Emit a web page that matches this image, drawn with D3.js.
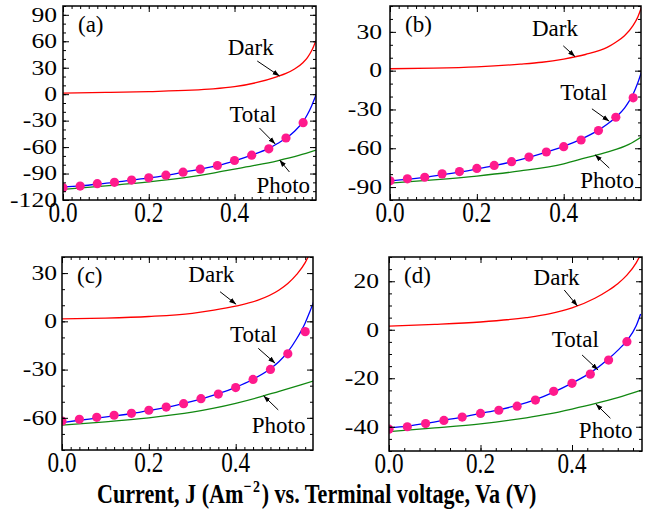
<!DOCTYPE html>
<html><head><meta charset="utf-8">
<script src="https://cdn.jsdelivr.net/npm/d3@7"></script>
<style>body{margin:0;background:#fff} svg{display:block} text{font-family:"Liberation Serif","Times New Roman",serif;fill:#000}</style>
</head><body><svg id="c" width="654" height="512"></svg>
<script>
// ---------------- data ----------------
const dotV = [0,0.04,0.08,0.12,0.16,0.20,0.24,0.28,0.32,0.36,0.40,0.44,0.48,0.52,0.56];

// panel (a)
const darkV_a = [0,0.1,0.2,0.3,0.35,0.4,0.45,0.5,0.52,0.54,0.56,0.57,0.58,0.59];
const darkJ_a = [1.2,2,3,4.5,6,8.5,13,20,23.5,28.5,36,41.5,49.5,61];
const totalV_a = [0,0.04,0.08,0.12,0.16,0.2,0.24,0.28,0.32,0.36,0.4,0.44,0.48,0.5,0.52,0.54,0.56,0.57,0.58,0.59];
const totalJ_a = [-105,-104,-102,-100,-97.5,-95,-92,-88.5,-85,-81,-75.5,-69,-61.5,-56,-50,-42,-31,-23,-13,-1];
const photoV_a = [0,0.1,0.2,0.3,0.35,0.4,0.45,0.5,0.55,0.59];
const photoJ_a = [-108,-104,-99.5,-93.5,-89.5,-85,-80.5,-75.5,-69.5,-63.5];
const dotsJ_a = [-106,-104.2,-101.5,-100,-97.4,-94.8,-91.8,-88.4,-85,-80.9,-75.2,-69.2,-62,-49.7,-32.3];

// panel (b)
const darkV_b = [0,0.1,0.2,0.3,0.35,0.4,0.45,0.5,0.52,0.54,0.56,0.57,0.58];
const darkJ_b = [1.5,2,3,5,6.5,9,12.5,18,22,27,35,41,50];
const totalV_b = [0,0.04,0.08,0.12,0.16,0.2,0.24,0.28,0.32,0.36,0.4,0.44,0.48,0.5,0.52,0.54,0.55,0.56,0.57,0.58];
const totalJ_b = [-85,-84,-82.5,-80.5,-78.5,-76,-73.5,-70.5,-67,-63,-58.5,-53,-46,-41.5,-36,-29,-24,-18,-10,0];
const photoV_b = [0,0.1,0.2,0.3,0.4,0.45,0.5,0.55,0.58];
const photoJ_b = [-87,-84.5,-81.5,-77.5,-72,-67.5,-63,-57,-51];
const dotsJ_b = [-85.2,-83.6,-82.4,-79.8,-78,-75.6,-73.3,-70.4,-66.8,-62.9,-58.8,-53.6,-46.3,-36,-21];

// panel (c)
const darkV_c = [0,0.1,0.2,0.3,0.35,0.4,0.45,0.5,0.52,0.54,0.56,0.57,0.58];
const darkJ_c = [1.5,2,3,5,7,9.5,13,19.5,23.5,29,36.5,42,49];
const totalV_c = [0,0.04,0.08,0.12,0.16,0.2,0.24,0.28,0.32,0.36,0.4,0.44,0.48,0.5,0.52,0.54,0.56,0.57,0.58];
const totalJ_c = [-63,-61.5,-60.2,-58.8,-57.3,-55.5,-53.5,-51,-48.3,-45,-41,-36,-29.5,-25,-19,-11,-1,5.5,12.5];
const photoV_c = [0,0.1,0.2,0.3,0.35,0.4,0.45,0.5,0.55,0.58];
const photoJ_c = [-64.5,-62.5,-60,-56.5,-54,-51,-47.5,-43.5,-39.5,-37];
const dotsJ_c = [-62,-60.9,-59.7,-58.4,-57.2,-55.3,-53.3,-51.2,-48.1,-45.2,-41.2,-36.1,-29.9,-20.2,-6.4];

// panel (d)
const darkV_d = [0,0.1,0.2,0.3,0.35,0.4,0.45,0.48,0.5,0.52,0.54,0.55];
const darkJ_d = [1.5,2.2,3.2,5,6.5,9,13,16.3,19,22.5,27.5,31];
const totalV_d = [0,0.04,0.08,0.12,0.16,0.2,0.24,0.28,0.32,0.36,0.4,0.44,0.48,0.5,0.52,0.54,0.55];
const totalJ_d = [-40.5,-39.7,-38.6,-37.3,-36,-34.5,-33,-31.2,-28.8,-25.7,-22,-17.8,-12,-8.5,-4.5,1.5,6.5];
const photoV_d = [0,0.1,0.2,0.3,0.35,0.4,0.45,0.5,0.55];
const photoJ_d = [-42,-40.5,-38.8,-36.3,-34.7,-32.7,-30.5,-28,-25];
const dotsJ_d = [-41,-40,-38.7,-37.4,-36,-34.5,-33.2,-31.5,-29,-25.4,-22.1,-18.3,-12.5,-4.9];

// tick labels
const xTicks = [0,0.2,0.4];
const yTicks_a = [-120,-90,-60,-30,0,30,60,90];
const yTicks_b = [-90,-60,-30,0,30];
const yTicks_c = [-60,-30,0,30];
const yTicks_d = [-40,-20,0,20];
const panelNames = ["(a)","(b)","(c)","(d)"];
const seriesNames = ["Dark","Total","Photo"];

// ---------------- layout ----------------
const panels = [
  {name:panelNames[0], L:63, R:316, T:6, B:200, xmax:0.59, ymin:-120, ymax:100, yTicks:yTicks_a, yMinor:10, xMinor:0.02, gap:6,
   dark:[darkV_a,darkJ_a], total:[totalV_a,totalJ_a], photo:[photoV_a,photoJ_a], dots:dotsJ_a,
   ann:[[0.384,44.4,0.453,37.6,0.505,20.6],[0.388,-31.5,0.458,-38.3,0.495,-56.5],[0.451,-112,0.528,-88.2,0.505,-74.6]]},
  {name:panelNames[1], L:390, R:641, T:6, B:200, xmax:0.578, ymin:-100, ymax:50, yTicks:yTicks_b, yMinor:10, xMinor:0.02, gap:8,
   dark:[darkV_b,darkJ_b], total:[totalV_b,totalJ_b], photo:[photoV_b,photoJ_b], dots:dotsJ_b,
   ann:[[0.327,26.9,0.399,19.2,0.426,10.9],[0.392,-22.3,0.465,-29.5,0.505,-39.1],[0.438,-90.9,0.505,-75.3,0.472,-65]]},
  {name:panelNames[2], L:62, R:313, T:257, B:450, xmax:0.578, ymin:-80, ymax:40, yTicks:yTicks_c, yMinor:10, xMinor:0.02, gap:5,
   dark:[darkV_c,darkJ_c], total:[totalV_c,totalJ_c], photo:[photoV_c,photoJ_c], dots:dotsJ_c,
   ann:[[0.291,24.6,0.364,18.4,0.401,10.6],[0.387,-12.7,0.452,-16.8,0.491,-26.1],[0.437,-69.6,0.498,-55.1,0.464,-46.2]]},
  {name:panelNames[3], L:389, R:642, T:257, B:451, xmax:0.553, ymin:-50, ymax:30, yTicks:yTicks_d, yMinor:5, xMinor:0.2/6, gap:10,
   dark:[darkV_d,darkJ_d], total:[totalV_d,totalJ_d], photo:[photoV_d,photoJ_d], dots:dotsJ_d,
   ann:[[0.316,18.5,0.383,16.4,0.412,9.8],[0.356,-7,0.422,-10.4,0.457,-16.6],[0.415,-44.8,0.484,-36.5,0.452,-30.6]]}
];

const svg = d3.select("#c");
const defs = svg.append("defs");
defs.append("marker").attr("id","ah").attr("viewBox","0 0 10 10").attr("refX",10).attr("refY",5)
  .attr("markerWidth",7).attr("markerHeight",7).attr("markerUnits","userSpaceOnUse").attr("orient","auto")
  .append("path").attr("d","M0,1.5 L10,5 L0,8.5 Z").attr("fill","#000");

const FONT_Y = 20, FONT_X = 29;

panels.forEach((p,i)=>{
  const x = d3.scaleLinear().domain([0,p.xmax]).range([p.L,p.R]);
  const y = d3.scaleLinear().domain([p.ymin,p.ymax]).range([p.B,p.T]);
  const g = svg.append("g");
  const cid = "clip"+i;
  defs.append("clipPath").attr("id",cid).append("rect")
    .attr("x",p.L).attr("y",p.T).attr("width",p.R-p.L).attr("height",p.B-p.T);

  const line = d3.line().x(d=>x(d[0])).y(d=>y(d[1])).curve(d3.curveMonotoneX);
  const zip = s => s[0].map((v,k)=>[v,s[1][k]]);
  const plot = g.append("g").attr("clip-path",`url(#${cid})`);
  plot.append("path").attr("d",line(zip(p.photo))).attr("fill","none").attr("stroke","#118811").attr("stroke-width",1.3);
  plot.append("path").attr("d",line(zip(p.dark))).attr("fill","none").attr("stroke","#ff0000").attr("stroke-width",1.3);
  plot.append("path").attr("d",line(zip(p.total))).attr("fill","none").attr("stroke","#0000ff").attr("stroke-width",1.3);
  plot.selectAll("circle").data(p.dots).join("circle")
    .attr("cx",(d,k)=>x(dotV[k])).attr("cy",d=>y(d)).attr("r",4.6).attr("fill","#ff1a8c");

  // ticks (inward, mirrored on all sides)
  const yMajor = p.yTicks;
  const yMinor = d3.range(Math.ceil(p.ymin/p.yMinor)*p.yMinor, p.ymax+1e-9, p.yMinor);
  const xMinor = d3.range(0, p.xmax+1e-9, p.xMinor);
  const mk = (sel, axis) => { sel.call(axis); sel.select(".domain").remove(); sel.selectAll("text").remove(); sel.selectAll("line").attr("stroke","#000"); };
  mk(g.append("g").attr("transform",`translate(0,${p.B})`), d3.axisBottom(x).tickValues(xMinor).tickSize(-3).tickFormat(""));
  mk(g.append("g").attr("transform",`translate(0,${p.B})`), d3.axisBottom(x).tickValues(xTicks).tickSize(-6).tickFormat(""));
  mk(g.append("g").attr("transform",`translate(0,${p.T})`), d3.axisTop(x).tickValues(xMinor).tickSize(-3).tickFormat(""));
  mk(g.append("g").attr("transform",`translate(0,${p.T})`), d3.axisTop(x).tickValues(xTicks).tickSize(-6).tickFormat(""));
  mk(g.append("g").attr("transform",`translate(${p.L},0)`), d3.axisLeft(y).tickValues(yMinor).tickSize(-3).tickFormat(""));
  mk(g.append("g").attr("transform",`translate(${p.L},0)`), d3.axisLeft(y).tickValues(yMajor).tickSize(-6).tickFormat(""));
  mk(g.append("g").attr("transform",`translate(${p.R},0)`), d3.axisRight(y).tickValues(yMinor).tickSize(-3).tickFormat(""));
  mk(g.append("g").attr("transform",`translate(${p.R},0)`), d3.axisRight(y).tickValues(yMajor).tickSize(-6).tickFormat(""));

  g.append("rect").attr("x",p.L).attr("y",p.T).attr("width",p.R-p.L).attr("height",p.B-p.T)
    .attr("fill","none").attr("stroke","#000").attr("stroke-width",1.5);

  // tick labels
  yMajor.forEach(v=>{
    g.append("g").attr("transform",`translate(${p.L-p.gap},${y(v)}) scale(1.28,1)`)
      .append("text").attr("text-anchor","end").attr("dy","0.34em").attr("font-size",FONT_Y).text(String(v));
  });
  xTicks.forEach(v=>{
    g.append("g").attr("transform",`translate(${x(v)},${p.B+22}) scale(0.8,1)`)
      .append("text").attr("text-anchor","middle").attr("font-size",FONT_X).text(d3.format(".1f")(v));
  });

  // panel label
  g.append("text").attr("x",p.L+15).attr("y",p.T+26).attr("font-size",23).text(p.name);

  // annotations
  p.ann.forEach((a,k)=>{
    g.append("text").attr("x",x(a[0])).attr("y",y(a[1])).attr("font-size",23).text(seriesNames[k]);
    g.append("line").attr("x1",x(a[2])).attr("y1",y(a[3])).attr("x2",x(a[4])).attr("y2",y(a[5]))
      .attr("stroke","#000").attr("stroke-width",1).attr("marker-end","url(#ah)");
  });
});

// overall title
const tg = svg.append("g").attr("transform","translate(97,503) scale(0.82,1)");
const tt = tg.append("text").attr("font-size",27).attr("font-weight","bold");
tt.append("tspan").text("Current, J (Am");
tt.append("tspan").attr("dy",-11).attr("font-size",17).attr("letter-spacing",2).text("−2");
tt.append("tspan").attr("dy",11).text(") vs. Terminal voltage, Va (V)");
</script></body></html>
